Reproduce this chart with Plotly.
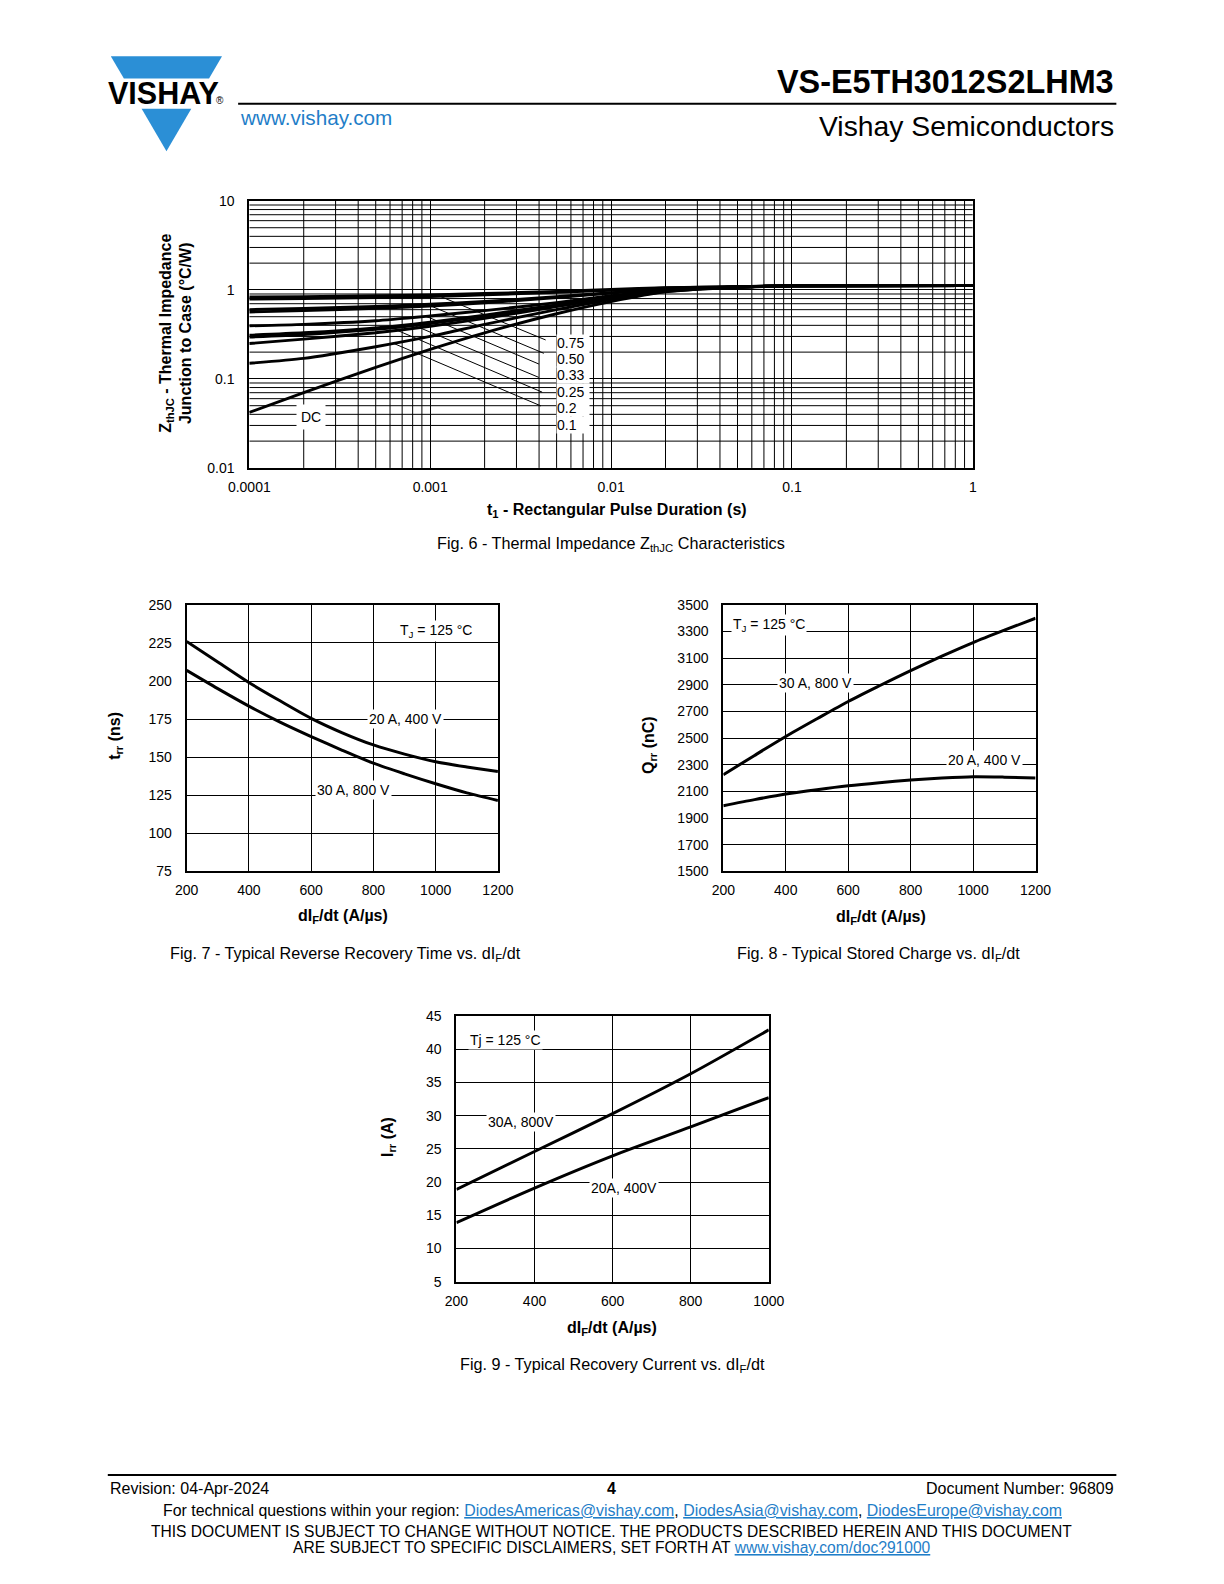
import numpy as np
import plotly.graph_objects as go

W, H = 1224, 1584
FONT = "Liberation Sans, Arial, Helvetica, sans-serif"
BLUE = "#2B8FD6"
LINK = "#1F7EC8"

# ---------------- Fig. 6 : thermal impedance ----------------
pulse_t = [1e-4, 2e-4, 5e-4, 1e-3, 2e-3, 5e-3, 1e-2, 2e-2, 5e-2, 1e-1, 1.0]
z_d075  = [0.835, 0.84, 0.86, 0.88, 0.91, 0.96, 1.01, 1.06, 1.09, 1.11, 1.12]
z_d075b = [0.79, 0.80, 0.82, 0.84, 0.88, 0.94, 0.99, 1.05, 1.09, 1.11, 1.12]
z_d050b = [0.60, 0.62, 0.65, 0.69, 0.74, 0.84, 0.93, 1.03, 1.08, 1.11, 1.12]
z_d050  = [0.565, 0.585, 0.62, 0.66, 0.715, 0.82, 0.92, 1.02, 1.08, 1.11, 1.12]
z_d033  = [0.395, 0.41, 0.45, 0.51, 0.585, 0.72, 0.86, 1.00, 1.08, 1.11, 1.12]
z_d025  = [0.31, 0.33, 0.375, 0.435, 0.52, 0.68, 0.83, 0.99, 1.08, 1.11, 1.12]
z_d025b = [0.295, 0.315, 0.36, 0.42, 0.51, 0.67, 0.82, 0.99, 1.08, 1.11, 1.12]
z_d020  = [0.25, 0.28, 0.33, 0.39, 0.48, 0.65, 0.81, 0.98, 1.08, 1.11, 1.12]
z_d010  = [0.15, 0.17, 0.23, 0.30, 0.41, 0.60, 0.78, 0.96, 1.07, 1.11, 1.12]
z_dc    = [0.042, 0.07, 0.135, 0.215, 0.33, 0.54, 0.74, 0.95, 1.07, 1.11, 1.12]

duty_labels = ["0.75", "0.50", "0.33", "0.25", "0.2", "0.1"]
leader_t0 = [1.1e-3, 1.0e-3, 9.4e-4, 7.9e-4, 6.5e-4, 6.3e-4]
leader_z0 = [0.87, 0.665, 0.51, 0.41, 0.355, 0.25]
leader_t1 = [4.35e-3, 4.25e-3, 3.99e-3, 3.99e-3, 4.16e-3, 4.1e-3]
leader_z1 = [0.274, 0.194, 0.147, 0.104, 0.071, 0.0497]
duty_label_z = [0.252, 0.168, 0.111, 0.072, 0.0469, 0.0304]

x6_ticks = [1e-4, 1e-3, 1e-2, 1e-1, 1.0]
x6_labels = ["0.0001", "0.001", "0.01", "0.1", "1"]
y6_ticks = [0.01, 0.1, 1.0, 10.0]
y6_labels = ["0.01", "0.1", "1", "10"]
log_minor = [2, 3, 4, 5, 6, 7, 8, 9]

# ---------------- Fig. 7 : trr ----------------
didt7 = [200, 300, 400, 500, 600, 700, 800, 900, 1000, 1100, 1200]
trr_20A_400V = [226, 212.5, 199, 187, 175.5, 166, 158, 152, 147, 143.5, 140.5]
trr_30A_800V = [207, 195, 183.5, 173, 163.5, 154.5, 146, 139, 132.5, 126.5, 121.5]

# ---------------- Fig. 8 : Qrr ----------------
didt8 = [200, 300, 400, 500, 600, 700, 800, 900, 1000, 1100, 1200]
qrr_30A_800V = [2225, 2370, 2512, 2645, 2775, 2893, 3007, 3115, 3217, 3310, 3400]
qrr_20A_400V = [1992, 2038, 2080, 2113, 2142, 2165, 2185, 2200, 2210, 2207, 2200]

# ---------------- Fig. 9 : Irr ----------------
didt9 = [200, 400, 600, 800, 1000]
irr_30A_800V = [18.9, 24.6, 30.3, 36.3, 42.9]
irr_20A_400V = [13.9, 19.1, 23.95, 28.3, 32.7]


def A(x, y, text, size=16, xanchor="center", yanchor="middle", angle=0,
      color="black", bg=None, xref="paper", yref="paper", **kw):
    if xref == "paper":
        x = x / W
    if yref == "paper":
        y = 1 - y / H
    d = dict(x=x, y=y, xref=xref, yref=yref, text=text, showarrow=False,
             xanchor=xanchor, yanchor=yanchor, textangle=angle,
             font=dict(family=FONT, size=size, color=color))
    if bg:
        d.update(bgcolor=bg)
    d.update(kw)
    return d


fig = go.Figure()

# Fig 6 minor log grid (thin lines on the log axes)
gx, gy = [], []
for e in range(-4, 0):
    for m in log_minor:
        v = m * 10.0 ** e
        gx += [v, v, None]
        gy += [0.01, 10.0, None]
for e in range(-2, 1):
    for m in log_minor:
        v = m * 10.0 ** e
        gx += [1e-4, 1.0, None]
        gy += [v, v, None]
fig.add_trace(go.Scatter(x=gx, y=gy, xaxis="x", yaxis="y", mode="lines",
                         line=dict(color="black", width=1), showlegend=False,
                         hoverinfo="skip", connectgaps=False))

def curve(x, y, ax, width=3.0, smooth=0.8):
    fig.add_trace(go.Scatter(x=x, y=y, xaxis=ax[0], yaxis=ax[1], mode="lines",
                             line=dict(color="black", width=width, shape="spline",
                                       smoothing=smooth),
                             showlegend=False, hoverinfo="skip"))

for i in range(len(duty_labels)):
    fig.add_trace(go.Scatter(x=[leader_t0[i], leader_t1[i]], y=[leader_z0[i], leader_z1[i]],
                             xaxis="x", yaxis="y", mode="lines",
                             line=dict(color="black", width=1),
                             showlegend=False, hoverinfo="skip"))
for z in [z_d075, z_d075b, z_d050b, z_d050, z_d033, z_d025, z_d025b, z_d020, z_d010, z_dc]:
    curve(pulse_t, z, ("x", "y"), width=2.9, smooth=0.6)

curve(didt7, trr_20A_400V, ("x2", "y2"))
curve(didt7, trr_30A_800V, ("x2", "y2"))
curve(didt8, qrr_30A_800V, ("x3", "y3"))
curve(didt8, qrr_20A_400V, ("x3", "y3"))
curve(didt9, irr_30A_800V, ("x4", "y4"))
curve(didt9, irr_20A_400V, ("x4", "y4"))

common = dict(showgrid=True, gridcolor="black", gridwidth=1, showline=True,
              linecolor="black", linewidth=2, mirror=True, ticks="", zeroline=False,
              fixedrange=True, tickfont=dict(family=FONT, size=14, color="black"))

def dx(a, b):
    return [a / W, b / W]

def dy(top, bottom):
    return [1 - bottom / H, 1 - top / H]

layout = dict(
    width=W, height=H, margin=dict(l=0, r=0, t=0, b=0),
    paper_bgcolor="white", plot_bgcolor="white", showlegend=False,
    xaxis=dict(domain=dx(235.4, 981.5), type="log", range=[-4, 0], tickmode="array",
               tickvals=x6_ticks, ticktext=x6_labels, anchor="y", ticklabelstandoff=5, **common),
    yaxis=dict(domain=dy(194.9, 464.6), type="log", range=[-2, 1], tickmode="array",
               tickvals=y6_ticks, ticktext=y6_labels, anchor="x", ticklabelstandoff=10, **common),
    xaxis2=dict(domain=dx(170.8, 491.8), range=[200, 1200], tickmode="linear", tick0=200, dtick=200,
                anchor="y2", ticklabelstandoff=5, **common),
    yaxis2=dict(domain=dy(603, 872.1), range=[75, 250], tickmode="linear", tick0=75, dtick=25,
                anchor="x2", ticklabelstandoff=10, **common),
    xaxis3=dict(domain=dx(724.2, 1046.2), range=[200, 1200], tickmode="linear", tick0=200, dtick=200,
                anchor="y3", ticklabelstandoff=5, **common),
    yaxis3=dict(domain=dy(603, 872.1), range=[1500, 3500], tickmode="linear", tick0=1500, dtick=200,
                anchor="x3", ticklabelstandoff=10, **common),
    xaxis4=dict(domain=dx(449.0, 771.1), range=[200, 1000], tickmode="linear", tick0=200, dtick=200,
                anchor="y4", ticklabelstandoff=5, **common),
    yaxis4=dict(domain=dy(1018.2, 1286.8), range=[5, 45], tickmode="linear", tick0=5, dtick=5,
                anchor="x4", ticklabelstandoff=10, **common),
)
fig.update_layout(**layout)

def P(x, y):
    return f"{x / W:.5f},{1 - y / H:.5f}"

shapes = [
    dict(type="path", xref="paper", yref="paper",
         path=f"M {P(92.6, 48.8)} L {P(207.3, 48.8)} L {P(193.9, 71.3)} L {P(106.1, 71.3)} Z",
         fillcolor=BLUE, line=dict(width=0)),
    dict(type="path", xref="paper", yref="paper",
         path=f"M {P(124.4, 101.9)} L {P(175.6, 101.9)} L {P(150, 144.8)} Z",
         fillcolor=BLUE, line=dict(width=0)),
    dict(type="line", xref="paper", yref="paper", x0=223.9 / W, x1=1129.5 / W,
         y0=1 - 96.8 / H, y1=1 - 96.8 / H, line=dict(color="black", width=2)),
    dict(type="line", xref="paper", yref="paper", x0=89.5 / W, x1=1129.5 / W,
         y0=1 - 1481.9 / H, y1=1 - 1481.9 / H, line=dict(color="black", width=2)),
]

def link(t):
    return f'<span style="color:{LINK};text-decoration:underline">{t}</span>'

anns = [
    # header
    A(147.4, 85.5, "<b>VISHAY</b>", size=30.5),
    A(205, 93, "®", size=10),
    A(223.9, 111.1, "www.vishay.com", size=20.7, xanchor="left", color=LINK),
    A(1129.5, 74.4, "<b>VS-E5TH3012S2LHM3</b>", size=32.4, xanchor="right"),
    A(1129.5, 119.3, "Vishay Semiconductors", size=28.3, xanchor="right"),
    # fig 6
    A(150.0, 328.7, "<b>Z<sub>thJC</sub> - Thermal Impedance</b>", angle=-90),
    A(169.8, 328.7, "<b>Junction to Case (°C/W)</b>", angle=-90),
    A(614.7, 507.5, "<b>t<sub>1</sub> - Rectangular Pulse Duration (s)</b>"),
    A(608.5, 541.2, "Fig. 6 - Thermal Impedance Z<sub>thJC</sub> Characteristics", size=16.2),
    A(np.log10(2.19e-4), np.log10(0.0377), "DC", size=14, xref="x", yref="y",
      bg="white", borderpad=4),
    # fig 7
    A(97.9, 735.3, "<b>t<sub>rr</sub> (ns)</b>", angle=-90),
    A(332.3, 918.1, "<b>dI<sub>F</sub>/dt (A/µs)</b>"),
    A(334.4, 955.9, "Fig. 7 - Typical Reverse Recovery Time vs. dI<sub>F</sub>/dt", size=16.2),
    A(1000, 232.6, "T<sub>J</sub> = 125 °C", size=14, xref="x2", yref="y2", bg="white"),
    A(903, 175.2, "20 A, 400 V", size=14, xref="x2", yref="y2", bg="white"),
    A(735, 128.5, "30 A, 800 V", size=14, xref="x2", yref="y2", bg="white"),
    # fig 8
    A(648.1, 745, "<b>Q<sub>rr</sub> (nC)</b>", angle=-90),
    A(886.7, 919.1, "<b>dI<sub>F</sub>/dt (A/µs)</b>"),
    A(884.6, 955.9, "Fig. 8 - Typical Stored Charge vs. dI<sub>F</sub>/dt", size=16.2),
    A(345, 3350, "T<sub>J</sub> = 125 °C", size=14, xref="x3", yref="y3", bg="white"),
    A(495, 2912, "30 A, 800 V", size=14, xref="x3", yref="y3", bg="white"),
    A(1035, 2337, "20 A, 400 V", size=14, xref="x3", yref="y3", bg="white"),
    # fig 9
    A(378.2, 1140.7, "<b>I<sub>rr</sub> (A)</b>", angle=-90),
    A(609.5, 1333.8, "<b>dI<sub>F</sub>/dt (A/µs)</b>"),
    A(609.5, 1370.6, "Fig. 9 - Typical Recovery Current vs. dI<sub>F</sub>/dt", size=16.2),
    A(325, 41.4, "Tj = 125 °C", size=14, xref="x4", yref="y4", bg="white"),
    A(365, 29, "30A, 800V", size=14, xref="x4", yref="y4", bg="white"),
    A(630, 19.1, "20A, 400V", size=14, xref="x4", yref="y4", bg="white"),
    # footer
    A(89.5, 1495.2, "Revision: 04-Apr-2024", xanchor="left"),
    A(608.5, 1495.6, "<b>4</b>"),
    A(1129.5, 1495.2, "Document Number: 96809", xanchor="right"),
    A(609.5, 1517.7, "For technical questions within your region: "
      + link("DiodesAmericas@vishay.com") + ", " + link("DiodesAsia@vishay.com")
      + ", " + link("DiodesEurope@vishay.com"), size=15.9),
    A(609, 1539.1, "THIS DOCUMENT IS SUBJECT TO CHANGE WITHOUT NOTICE. THE PRODUCTS DESCRIBED HEREIN AND THIS DOCUMENT", size=15.6),
    A(609, 1555.5, "ARE SUBJECT TO SPECIFIC DISCLAIMERS, SET FORTH AT " + link("www.vishay.com/doc?91000"), size=15.6),
]

label_t = 4.95e-3
for lab, z in zip(duty_labels, duty_label_z):
    anns.append(A(np.log10(label_t), np.log10(z), lab, size=14, xref="x", yref="y",
                  xanchor="left", bg="white", width=32, align="left", borderpad=0))

fig.update_layout(shapes=shapes, annotations=anns)

fig.write_html("out.html", config={"displayModeBar": False},
               post_script="document.body.style.margin='0';")
